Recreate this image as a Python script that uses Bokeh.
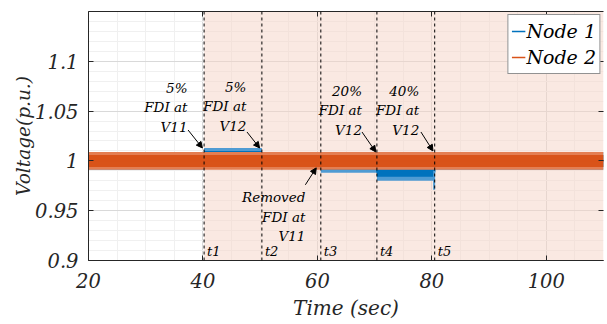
import numpy as np
from bokeh.plotting import figure
from bokeh.models import (ColumnDataSource, FixedTicker, LinearAxis, Range1d,
                          Legend, LegendItem, Arrow, NormalHead, Span)
from bokeh.core.properties import value
from bokeh.embed import file_html
from bokeh.resources import INLINE

FONT = "DejaVu Serif"

# ---------------- data ----------------
x_ticks = [20, 40, 60, 80, 100]
y_ticks = [0.9, 0.95, 1.0, 1.05, 1.1]
y_tick_labels = ["0.9", "0.95", "1", "1.05", "1.1"]

event_times = [40.2, 50.3, 60.6, 70.4, 80.5]
event_labels = ["t1", "t2", "t3", "t4", "t5"]

# noisy voltage bands, piecewise per segment (Time, sec)
seg_edges = [20, 40.2, 50.3, 60.6, 70.4, 80.5, 110]
node1_core_low = [0.994, 0.999, 0.996, 0.991, 0.984, 0.994]
node1_core_high = [1.006, 1.010, 1.007, 1.003, 0.993, 1.006]
node1_peak_low = [0.991, 0.996, 0.993, 0.988, 0.980, 0.991]
node1_peak_high = [1.009, 1.013, 1.009, 1.005, 0.995, 1.009]
node2_core_low = [0.994, 0.994, 0.994, 0.994, 0.994, 0.994]
node2_core_high = [1.006, 1.006, 1.006, 1.006, 1.006, 1.006]
node2_peak_low = [0.991, 0.991, 0.991, 0.991, 0.991, 0.991]
node2_peak_high = [1.009, 1.009, 1.009, 1.009, 1.009, 1.009]
node1_spike_time = 80.4
node1_spike_top = 0.990
node1_spike_min = 0.971

ann_text = ["5%\nFDI at\nV11", "5%\nFDI at\nV12", "20%\nFDI at\nV12",
            "40%\nFDI at\nV12", "Removed\nFDI at\nV11"]
ann_x = [37.3, 47.6, 67.8, 77.8, 57.9]
ann_y = [1.054, 1.055, 1.051, 1.051, 0.944]
arrow_x0 = [37.4, 47.7, 67.8, 78.1, 57.9]
arrow_y0 = [1.031, 1.029, 1.029, 1.029, 0.976]
arrow_x1 = [39.9, 49.9, 70.2, 80.2, 59.8]
arrow_y1 = [1.013, 1.013, 1.009, 1.010, 0.993]

BLUE = "#0072BD"
BLUE_L = "#4f9bd3"
ORANGE = "#D95319"
ORANGE_L = "#e47e52"
AXC = "#262626"


def steps(edges, vals):
    xs, ys = [], []
    for i, v in enumerate(vals):
        xs += [edges[i], edges[i + 1]]
        ys += [v, v]
    return xs, ys


# ---------------- figure ----------------
p = figure(width=607, height=324, output_backend="svg", toolbar_location=None,
           x_range=Range1d(20, 110), y_range=Range1d(0.9, 1.15),
           min_border_left=88, min_border_right=0, min_border_top=11,
           min_border_bottom=64)
p.outline_line_color = None
p.background_fill_color = "white"

xt = FixedTicker(ticks=x_ticks, minor_ticks=list(range(20, 111, 5)))
yt = FixedTicker(ticks=y_ticks,
                 minor_ticks=[round(v, 2) for v in np.arange(0.9, 1.151, 0.01)])

for ax in (p.xaxis[0], p.yaxis[0]):
    ax.major_tick_in = 5
    ax.major_tick_out = 0
    ax.minor_tick_line_color = None
    ax.axis_line_color = AXC
    ax.major_tick_line_color = AXC
    ax.major_label_text_font = FONT
    ax.major_label_text_font_style = "italic"
    ax.major_label_text_font_size = "19.5px"
    ax.major_label_text_color = AXC
    ax.axis_label_text_font = FONT
    ax.axis_label_text_font_style = "italic"
    ax.axis_label_text_color = AXC

p.xaxis.ticker = xt
p.yaxis.ticker = yt
p.yaxis.major_label_overrides = {t: s for t, s in zip(y_ticks, y_tick_labels)}
p.xaxis.axis_label = "Time (sec)"
p.yaxis.axis_label = "Voltage(p.u.)"
p.xaxis.axis_label_text_font_size = "20px"
p.yaxis.axis_label_text_font_size = "18.5px"
p.xaxis.major_label_standoff = 8
p.xaxis.axis_label_standoff = 5
p.yaxis.major_label_standoff = 6
p.yaxis.axis_label_standoff = -2

top_ax = LinearAxis(ticker=xt, major_label_text_font_size="1px",
                    major_label_text_color=None,
                    major_label_standoff=0, major_tick_in=5, major_tick_out=0,
                    minor_tick_line_color=None, axis_line_color=AXC,
                    major_tick_line_color=AXC)
right_ax = LinearAxis(ticker=yt, major_label_text_font_size="1px",
                      major_label_text_color=None,
                      major_label_standoff=0, major_tick_in=5, major_tick_out=0,
                      minor_tick_line_color=None, axis_line_color=None,
                      major_tick_line_color=AXC)
p.add_layout(top_ax, "above")
p.add_layout(right_ax, "right")

p.xgrid.ticker = xt
p.ygrid.ticker = yt
for g in (p.xgrid[0], p.ygrid[0]):
    g.grid_line_color = "#d9d9d9"
    g.minor_grid_line_color = "#f0f0f0"

# shaded attack window
p.quad(left=[event_times[0]], right=[seg_edges[-1]], bottom=[0.9], top=[1.15],
       fill_color="#f6d3c5", fill_alpha=0.5, line_color=None)

# Node 1 band
x1, lo = steps(seg_edges, node1_peak_low)
_, hi = steps(seg_edges, node1_peak_high)
p.varea(x=x1, y1=lo, y2=hi, fill_color=BLUE_L)
_, lo = steps(seg_edges, node1_core_low)
_, hi = steps(seg_edges, node1_core_high)
p.varea(x=x1, y1=lo, y2=hi, fill_color=BLUE)
mid1 = [(a + b) / 2 for a, b in zip(lo, hi)]
r1 = p.line(x=x1, y=mid1, line_color=BLUE, line_width=1.5)
p.segment(x0=[node1_spike_time], y0=[node1_spike_top], x1=[node1_spike_time],
          y1=[node1_spike_min], line_color=BLUE_L, line_width=2)

# Node 2 band
x2, lo = steps(seg_edges, node2_peak_low)
_, hi = steps(seg_edges, node2_peak_high)
p.varea(x=x2, y1=lo, y2=hi, fill_color=ORANGE_L)
_, lo = steps(seg_edges, node2_core_low)
_, hi = steps(seg_edges, node2_core_high)
p.varea(x=x2, y1=lo, y2=hi, fill_color=ORANGE)
mid2 = [(a + b) / 2 for a, b in zip(lo, hi)]
r2 = p.line(x=x2, y=mid2, line_color=ORANGE, line_width=1.5)

# event lines
for t in event_times:
    p.add_layout(Span(location=t, dimension="height", line_color="black",
                      line_width=1, line_dash="3 3"))

p.text(x=event_times, y=[0.909] * len(event_times), text=event_labels,
       x_offset=3, text_align="left", text_baseline="middle",
       text_font=value(FONT), text_font_style="italic", text_font_size="13px",
       text_color="black")

# annotations
p.text(x=ann_x, y=ann_y, text=ann_text, text_align="right",
       text_baseline="middle", text_font=value(FONT), text_font_style="italic",
       text_font_size="13.5px", text_line_height=1.22, text_color="black")
asrc = ColumnDataSource(dict(x0=arrow_x0, y0=arrow_y0, x1=arrow_x1, y1=arrow_y1))
p.add_layout(Arrow(end=NormalHead(size=6, fill_color="black", line_color="black"),
                   x_start="x0", y_start="y0", x_end="x1", y_end="y1",
                   source=asrc, line_color="black", line_width=1))

# legend
legend = Legend(items=[LegendItem(label="Node 1", renderers=[r1]),
                       LegendItem(label="Node 2", renderers=[r2])],
                location="top_right", margin=3, padding=3, spacing=0,
                glyph_width=14, glyph_height=26, label_height=26,
                label_standoff=1,
                label_text_font=FONT, label_text_font_style="italic",
                label_text_font_size="19px", label_text_color="black",
                border_line_color=AXC, border_line_width=1,
                background_fill_color="white", background_fill_alpha=1.0)
p.add_layout(legend)

open("out.html", "w").write(file_html(p, INLINE))
